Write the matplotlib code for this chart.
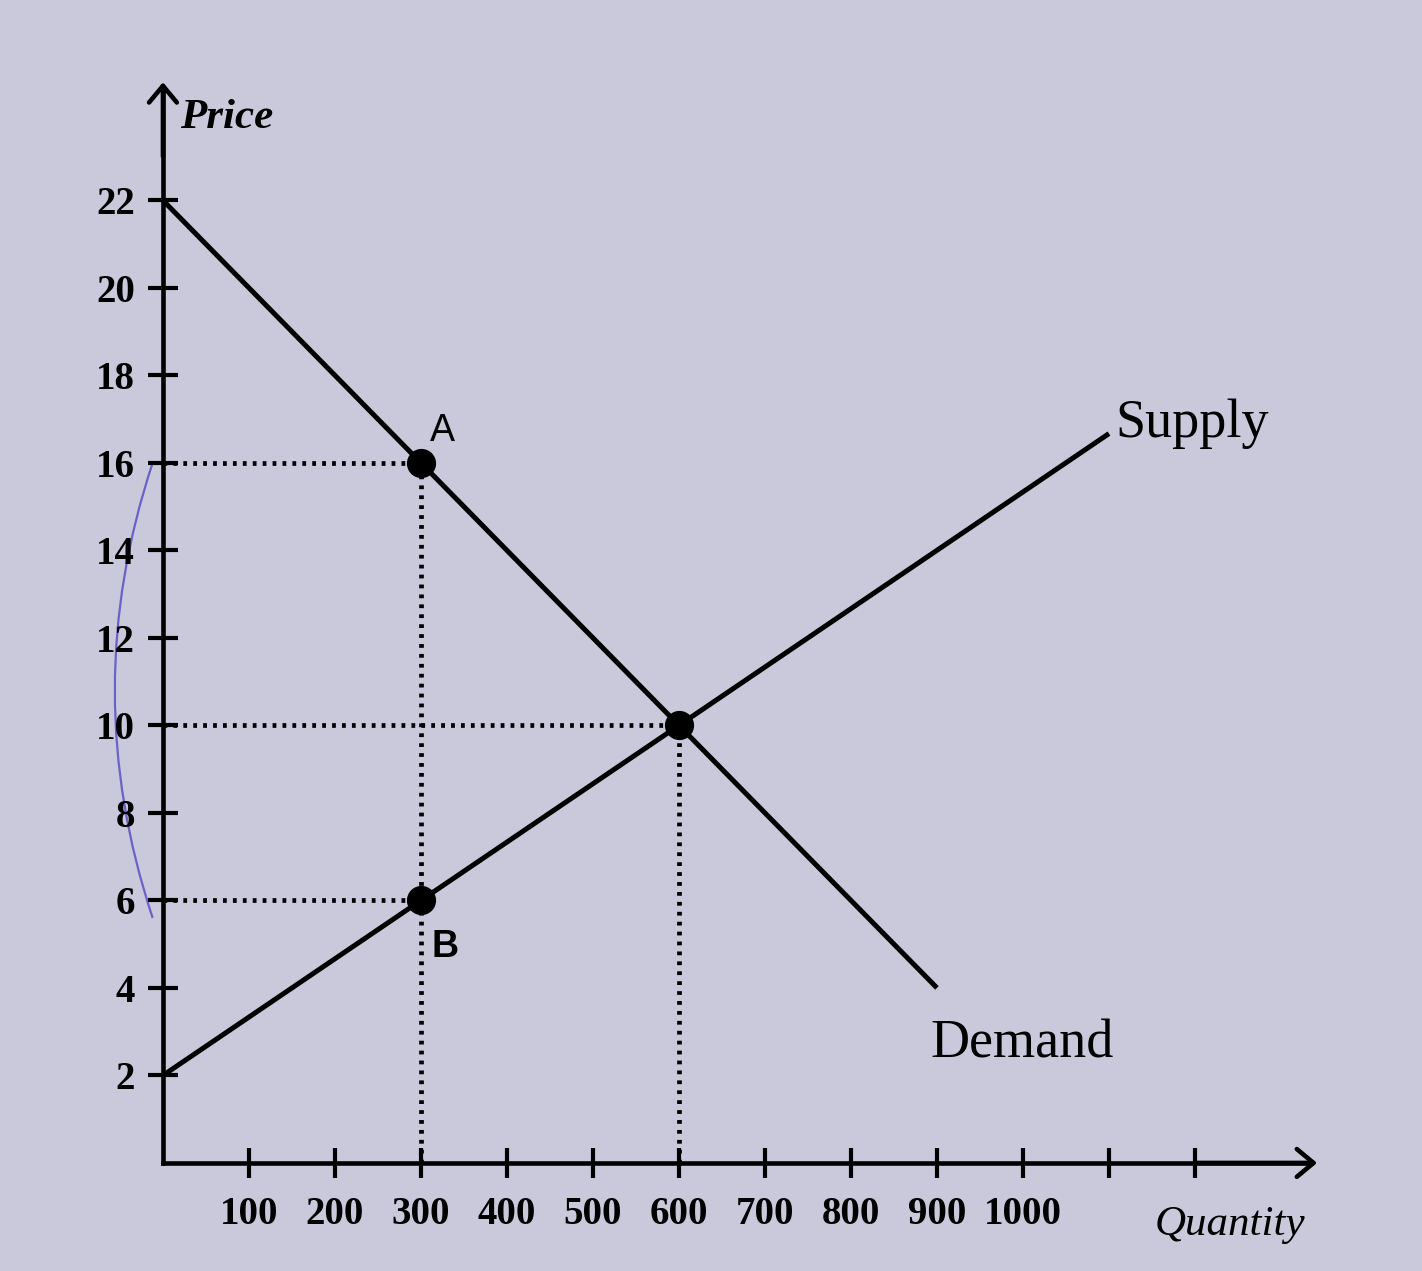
import numpy as np
import matplotlib
matplotlib.use("Agg")
import matplotlib.pyplot as plt
from matplotlib.path import Path
from matplotlib.patches import PathPatch

# demand: P = 22 - 0.02 Q, supply: P = 2 + Q/75
demand_q = [0, 300, 600, 900]
demand_p = [22, 16, 10, 4]
supply_q = [0, 300, 600, 1100]
supply_p = [2, 6, 10, 16.67]

# marked points A, B and equilibrium
pt_labels = ["A", "B", ""]
pt_q = [300, 300, 600]
pt_p = [16, 6, 10]

yticks = [2, 4, 6, 8, 10, 12, 14, 16, 18, 20, 22]
xticks = [100, 200, 300, 400, 500, 600, 700, 800, 900, 1000, 1100, 1200]
xtick_labels = ["100", "200", "300", "400", "500", "600", "700", "800", "900", "1000", "", ""]

bg = "#c9c9db"
serif = "Liberation Serif"

fig = plt.figure(figsize=(14.22, 12.71), dpi=100, facecolor=bg)
ax = fig.add_axes([0, 0, 1, 1])
ax.set_facecolor(bg)
ax.set_xlim(-189.5, 1464)
ax.set_ylim(-2.47, 26.58)

# axes through the origin
for s in ["top", "right"]:
    ax.spines[s].set_visible(False)
ax.spines["left"].set_position(("data", 0))
ax.spines["bottom"].set_position(("data", 0))
ax.spines["left"].set_bounds(0, 24.5)
ax.spines["bottom"].set_bounds(0, 1335)
for s in ["left", "bottom"]:
    ax.spines[s].set_linewidth(3.3)
head = "->,head_length=1.2,head_width=1.0"
ax.annotate("", xy=(0, 24.7), xytext=(0, 23.0),
            arrowprops=dict(arrowstyle=head, lw=3.3, color="black", shrinkA=0, shrinkB=0))
ax.annotate("", xy=(1342, 0), xytext=(1200, 0),
            arrowprops=dict(arrowstyle=head, lw=3.3, color="black", shrinkA=0, shrinkB=0))

ax.set_yticks(yticks)
ax.set_yticklabels([str(v) for v in yticks], fontfamily=serif, fontsize=28, fontweight="bold")
ax.set_xticks(xticks)
ax.set_xticklabels(xtick_labels, fontfamily=serif, fontsize=28, fontweight="bold")
ax.tick_params(axis="y", direction="inout", length=22, width=3, pad=9)
ax.tick_params(axis="x", direction="inout", length=22, width=3, pad=13)

# dotted guide lines
dot = dict(color="black", lw=3.4, linestyle=(0, (0.8, 1.3)))
ax.plot([0, 300], [16, 16], **dot)
ax.plot([0, 600], [10, 10], **dot)
ax.plot([0, 300], [6, 6], **dot)
ax.plot([300, 300], [0, 16], **dot)
ax.plot([600, 600], [0, 10], **dot)

ax.plot(demand_q, demand_p, color="black", lw=3.6, solid_capstyle="butt")
ax.plot(supply_q, supply_p, color="black", lw=3.6, solid_capstyle="butt")
ax.plot(pt_q, pt_p, "o", color="black", markersize=20, zorder=5)

ax.text(pt_q[0] + 10, pt_p[0] + 0.5, pt_labels[0], fontfamily="Liberation Sans", fontsize=27)
ax.text(pt_q[1] + 12, pt_p[1] - 1.3, pt_labels[1], fontfamily="Liberation Sans", fontsize=27,
        fontweight="bold")

ax.text(1107, 16.6, "Supply", fontfamily=serif, fontsize=39)
ax.text(892, 2.4, "Demand", fontfamily=serif, fontsize=39)
ax.text(20, 23.65, "Price", fontfamily=serif, fontsize=31, style="italic", fontweight="bold")
ax.text(1153, -1.65, "Quantity", fontfamily=serif, fontsize=31, style="italic")

# pen mark in the margin
verts = [(-12, 16), (-100, 10.8), (-12, 5.6)]
pen = PathPatch(Path(verts, [Path.MOVETO, Path.CURVE3, Path.CURVE3]),
                fill=False, edgecolor="#6a62c8", lw=1.6)
ax.add_patch(pen)

fig.savefig("out.png", dpi=100, facecolor=bg)
